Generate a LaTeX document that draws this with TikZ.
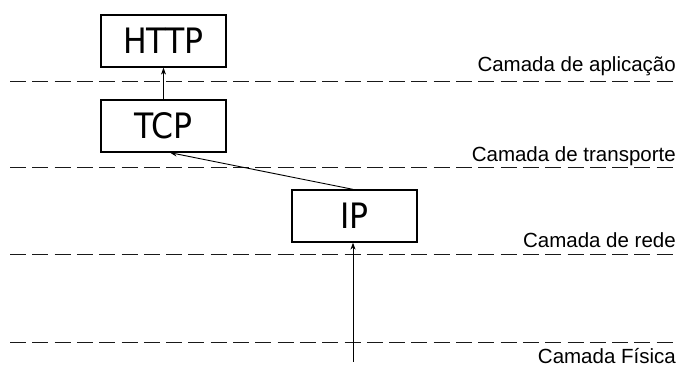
\documentclass[tikz,border=0pt]{standalone}
\usepackage{fontspec}
\setmainfont{Liberation Sans}
\newfontfamily\boxfont{DejaVu Sans Condensed}
\usetikzlibrary{arrows.meta}
\begin{document}
\begin{tikzpicture}[x=1pt,y=1pt,
  layerbox/.style={draw, line width=1.3pt, minimum width=125pt, minimum height=52pt,
    inner sep=0pt, font=\boxfont\fontsize{35}{35}\selectfont},
  layerline/.style={line width=1pt, dash pattern=on 16pt off 6.3pt, gray!20!black},
  layername/.style={anchor=base east, inner sep=0pt, font=\fontsize{20.5}{20.5}\selectfont},
  flow/.style={line width=0.9pt, -{Stealth[length=7pt,width=5pt]}}]
\useasboundingbox (0,0) rectangle (680,369);

% layer boundaries
\draw[layerline] (10,287) -- (677,287);
\draw[layerline] (10,201) -- (677,201);
\draw[layerline] (10,114) -- (677,114);
\draw[layerline] (10,26) -- (677,26);

% layer names
\node[layername] (lapp) at (676,297) {Camada de aplicação};
\node[layername] (ltra) at (676,207) {Camada de transporte};
\node[layername] (lnet) at (676,121) {Camada de rede};
\node[layername] (lphy) at (676,5) {Camada Física};

% protocols
\node[layerbox] (http) at (163.5,328) {HTTP};
\node[layerbox] (tcp)  at (163.5,243) {TCP};
\node[layerbox] (ip)   at (354.5,153) {IP};

% data flowing upward through the stack
\coordinate (wire) at (353,7);
\draw[flow] (wire) -- (ip.south -| wire);
\draw[flow] ([xshift=-1.5pt]ip.north) -- ([xshift=6.5pt]tcp.south);
\draw[flow] (tcp.north) -- (http.south);
\end{tikzpicture}
\end{document}
